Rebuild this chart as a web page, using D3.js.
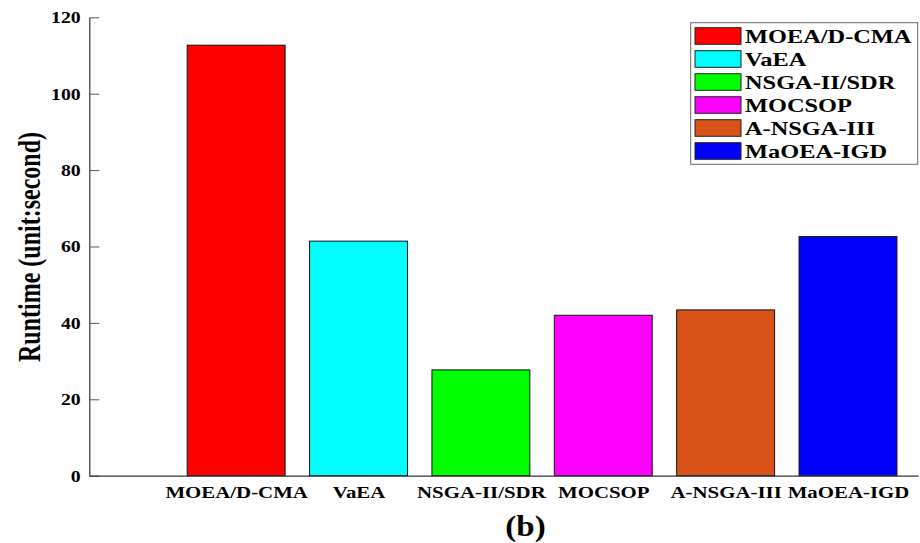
<!DOCTYPE html>
<html>
<head>
<meta charset="utf-8">
<script src="https://cdn.jsdelivr.net/npm/d3@7/dist/d3.min.js"></script>
<style>
  html, body { margin: 0; padding: 0; background: #fff; }
  svg { display: block; }
  text { font-family: "Liberation Serif", "Times New Roman", serif; font-weight: bold; fill: #000; }
</style>
</head>
<body>
<svg id="chart" width="920" height="543"></svg>
<script>
const categories = ["MOEA/D-CMA", "VaEA", "NSGA-II/SDR", "MOCSOP", "A-NSGA-III", "MaOEA-IGD"];
const runtimes = [112.7, 61.4, 27.7, 42.0, 43.4, 62.6];
const colors = ["#ff0000", "#00ffff", "#00ff00", "#ff00ff", "#d95319", "#0000ff"];
const yTicks = [0, 20, 40, 60, 80, 100, 120];

const svg = d3.select("#chart");
const SX = 1.25; // horizontal text stretch of the reference

const x = d3.scaleLinear().domain([-1.2, 5.572]).range([89.3, 918]);
const y = d3.scaleLinear().domain([0, 120]).range([475.7, 17.3]);
const barW = 0.8;

// bars
svg.append("g").selectAll("rect")
  .data(runtimes)
  .join("rect")
  .attr("x", (d, i) => x(i - barW / 2))
  .attr("width", (d, i) => x(i + barW / 2) - x(i - barW / 2))
  .attr("y", d => y(d))
  .attr("height", d => y(0) - y(d))
  .attr("fill", (d, i) => colors[i])
  .attr("stroke", "#111")
  .attr("stroke-width", 1);

// y axis
const yAxis = svg.append("g")
  .attr("transform", `translate(${x.range()[0]},0)`)
  .call(d3.axisLeft(y).tickValues(yTicks).tickSizeInner(-10).tickSizeOuter(0));
yAxis.select(".domain").attr("stroke", "#333").attr("stroke-width", 1.2);
yAxis.selectAll(".tick line").attr("stroke", "#555").attr("stroke-width", 1);
yAxis.selectAll(".tick text")
  .attr("x", -8.6 / SX)
  .attr("dy", "0.34em")
  .attr("transform", `scale(${SX},1)`)
  .style("font-size", "15.8px")
  .style("font-family", "'Liberation Serif', serif")
  .style("font-weight", "bold")
  .attr("text-anchor", "end");

// x axis
const xAxis = svg.append("g")
  .attr("transform", `translate(0,${y(0)})`)
  .call(d3.axisBottom(x).tickValues(d3.range(categories.length)).tickSize(0)
    .tickFormat(i => categories[i]));
xAxis.select(".domain").attr("stroke", "#333").attr("stroke-width", 1.2);
xAxis.selectAll(".tick text")
  .attr("y", 22.3)
  .attr("dy", 0)
  .attr("transform", `scale(${SX},1)`)
  .style("font-size", "16.7px")
  .style("font-family", "'Liberation Serif', serif")
  .style("font-weight", "bold");

// y label
svg.append("text")
  .attr("transform", `translate(40,247) scale(1.3,1) rotate(-90)`)
  .attr("text-anchor", "middle")
  .style("font-size", "24px")
  .text("Runtime (unit:second)");

// subtitle
svg.append("text")
  .attr("transform", `translate(525.5,536) scale(1.1,1)`)
  .attr("text-anchor", "middle")
  .style("font-size", "30px")
  .text("(b)");

// legend
const legend = svg.append("g");
legend.append("rect")
  .attr("x", 690.7).attr("y", 22.7)
  .attr("width", 227).attr("height", 141.6)
  .attr("fill", "#fff").attr("stroke", "#666").attr("stroke-width", 1);
const rows = legend.selectAll("g.row")
  .data(categories)
  .join("g")
  .attr("class", "row")
  .attr("transform", (d, i) => `translate(0,${43.3 + i * 23})`);
rows.append("rect")
  .attr("x", 695).attr("y", -15.6)
  .attr("width", 46).attr("height", 16.6)
  .attr("fill", (d, i) => colors[i])
  .attr("stroke", "#222").attr("stroke-width", 1);
rows.append("text")
  .attr("transform", `translate(745,0) scale(${SX},1)`)
  .style("font-size", "19.5px")
  .text(d => d);
</script>
</body>
</html>
